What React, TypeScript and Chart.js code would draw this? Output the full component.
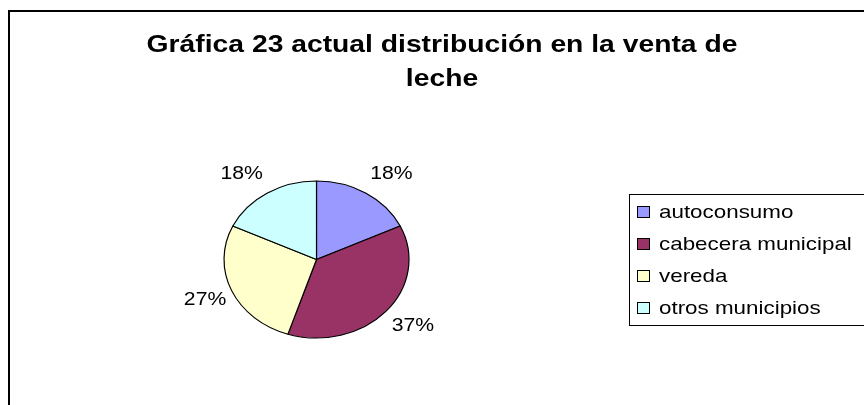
import React, { useEffect, useRef } from "react";
import { Chart, registerables } from "chart.js";

Chart.register(...registerables);

const TITLE_LINES = ["Gráfica 23 actual distribución en la venta de", "leche"];
const CATEGORIES = ["autoconsumo", "cabecera municipal", "vereda", "otros municipios"];
const VALUES = [18, 37, 27, 18];
const COLORS = ["#9999FF", "#993366", "#FFFFCC", "#CCFFFF"];

const SX = 1.178; // horizontal stretch of the original picture
const FONT = '"Liberation Sans", Arial, Helvetica, sans-serif';

function stretchedText(ctx: CanvasRenderingContext2D, text: string, x: number, y: number, align: CanvasTextAlign) {
  ctx.save();
  ctx.translate(x, y);
  ctx.scale(SX, 1);
  ctx.textAlign = align;
  ctx.textBaseline = "middle";
  ctx.fillText(text, 0, 0);
  ctx.restore();
}

const framePlugin = {
  id: "frame",
  beforeDraw(chart: any) {
    const ctx = chart.ctx as CanvasRenderingContext2D;
    ctx.save();
    ctx.fillStyle = "#ffffff";
    ctx.fillRect(0, 0, chart.width, chart.height);
    ctx.strokeStyle = "#000000";
    ctx.lineWidth = 2;
    ctx.strokeRect(9, 11, 880, 440);
    // title
    ctx.fillStyle = "#000000";
    ctx.font = `bold 24px ${FONT}`;
    stretchedText(ctx, TITLE_LINES[0], 442, 45, "center");
    stretchedText(ctx, TITLE_LINES[1], 442, 79, "center");
    ctx.restore();
  },
  beforeDatasetsDraw(chart: any) {
    const ctx = chart.ctx as CanvasRenderingContext2D;
    const arc = chart.getDatasetMeta(0).data[0];
    ctx.save();
    ctx.translate(arc.x, arc.y);
    ctx.scale(SX, 1);
    ctx.translate(-arc.x, -arc.y);
  },
  afterDatasetsDraw(chart: any) {
    const ctx = chart.ctx as CanvasRenderingContext2D;
    ctx.restore();
    const meta = chart.getDatasetMeta(0);
    const data = chart.data.datasets[0].data as number[];
    const total = data.reduce((a, b) => a + b, 0);
    ctx.save();
    ctx.fillStyle = "#000000";
    ctx.font = `18px ${FONT}`;
    meta.data.forEach((el: any, i: number) => {
      const ry = el.outerRadius;
      const rx = ry * SX;
      const mid = (el.startAngle + el.endAngle) / 2;
      const c = Math.cos(mid);
      const s = Math.sin(mid);
      const x = el.x + (rx + 22) * c + Math.sign(c) * 16 * Math.abs(s);
      const y = el.y + (ry + 22.5) * s;
      const pct = Math.round((data[i] / total) * 100) + "%";
      stretchedText(ctx, pct, x, y, "center");
    });
    // legend
    const labels = chart.data.labels as string[];
    const colors = chart.data.datasets[0].backgroundColor as string[];
    ctx.strokeStyle = "#000000";
    ctx.lineWidth = 1;
    ctx.strokeRect(629.5, 194.5, 260, 131);
    ctx.font = `19px ${FONT}`;
    labels.forEach((lab, i) => {
      const yc = 212 + i * 32;
      ctx.fillStyle = colors[i];
      ctx.fillRect(637.5, yc - 5.5, 12, 11);
      ctx.strokeRect(637.5, yc - 5.5, 12, 11);
      ctx.fillStyle = "#000000";
      stretchedText(ctx, lab, 659, yc + 1, "left");
    });
    ctx.restore();
  },
};

export default function App() {
  const ref = useRef<HTMLCanvasElement | null>(null);
  useEffect(() => {
    if (!ref.current) return;
    const chart = new Chart(ref.current, {
      type: "pie",
      data: {
        labels: CATEGORIES,
        datasets: [
          {
            data: VALUES,
            backgroundColor: COLORS,
            borderColor: "#000000",
            borderWidth: 1,
            hoverOffset: 0,
          },
        ],
      },
      options: {
        responsive: false,
        animation: false,
        devicePixelRatio: 1,
        radius: 78.5,
        layout: { padding: { left: 100, right: 331, top: 170, bottom: 56 } },
        plugins: {
          legend: { display: false },
          title: { display: false },
          tooltip: { enabled: false },
        },
      },
      plugins: [framePlugin],
    });
    return () => chart.destroy();
  }, []);
  return (
    <div style={{ position: "absolute", left: 0, top: 0, width: 864, height: 405 }}>
      <canvas ref={ref} width={864} height={405} style={{ display: "block", width: 864, height: 405 }} />
    </div>
  );
}
